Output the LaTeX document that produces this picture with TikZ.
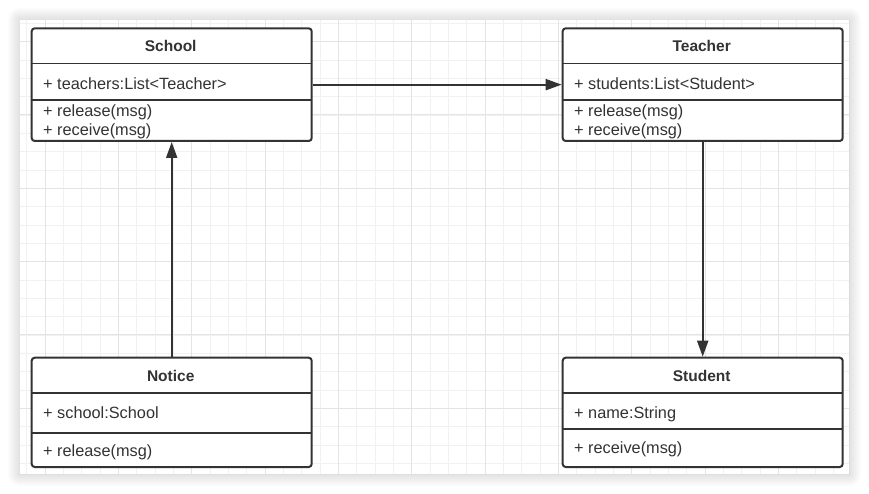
\documentclass[tikz,border=0pt]{standalone}
\usepackage{fontspec}
\setmainfont{Liberation Sans}
\usetikzlibrary{arrows.meta,shadows.blur}
\definecolor{ink}{HTML}{333333}
\definecolor{gridminor}{HTML}{F1F1F1}
\definecolor{gridmajor}{HTML}{E4E4E4}
\begin{document}
\begin{tikzpicture}[x=1pt,y=-1pt,
  classbox/.style={draw=ink, line width=2pt, rounded corners=3pt, fill=white,
    minimum width=280pt, inner sep=0pt, anchor=north west},
  sepline/.style={draw=ink, line width=1.8pt},
  title/.style={font=\fontsize{15.5}{18}\selectfont\bfseries, text=ink, inner sep=0pt},
  member/.style={font=\fontsize{16.3}{19}\selectfont, text=ink, inner sep=0pt,
    anchor=west, text height=11.6pt, text depth=0pt},
  link/.style={draw=ink, line width=2pt, -{Triangle[length=16pt,width=11pt]}}]
\useasboundingbox (0,0) rectangle (869,494);
% canvas with shadow
\path[fill=white, blur shadow={shadow xshift=0pt, shadow yshift=0pt, shadow blur radius=13pt, shadow opacity=25, shadow blur steps=14}]
  (20,20) rectangle (849,474);
\begin{scope}
\clip (20,20) rectangle (849,474);
\foreach \i in {0,...,45} {
  \pgfmathsetmacro{\gx}{26.667+18.333*\i}
  \draw[gridminor, line width=0.9pt] (\gx,20) -- (\gx,474);
}
\foreach \i in {0,...,25} {
  \pgfmathsetmacro{\gy}{23.333+18.333*\i}
  \draw[gridminor, line width=0.9pt] (20,\gy) -- (849,\gy);
}
\foreach \i in {0,...,11} {
  \pgfmathsetmacro{\gx}{-28.333+73.333*\i}
  \draw[gridmajor, line width=1pt] (\gx,20) -- (\gx,474);
}
\foreach \i in {0,...,6} {
  \pgfmathsetmacro{\gy}{-31.667+73.333*\i}
  \draw[gridmajor, line width=1pt] (20,\gy) -- (849,\gy);
}
\end{scope}

% School
\node[classbox, minimum height=112.7pt] (school) at (30.7,27.3) {};
\draw[sepline] (30.7,63.5) -- (310.7,63.5);
\draw[sepline] (30.7,100) -- (310.7,100);
\node[title] (schoolT) at (170.7,45.5) {School};
\node[member] (schoolA) at (43,83.5) {+ teachers:List<Teacher>};
\node[member] (schoolM1) at (43,110.5) {+ release(msg)};
\node[member] (schoolM2) at (43,129.5) {+ receive(msg)};

% Teacher
\node[classbox, minimum height=112.7pt] (teacher) at (561.7,27.3) {};
\draw[sepline] (561.7,63.5) -- (841.7,63.5);
\draw[sepline] (561.7,100) -- (841.7,100);
\node[title] (teacherT) at (701.7,45.5) {Teacher};
\node[member] (teacherA) at (574,83.5) {+ students:List<Student>};
\node[member] (teacherM1) at (574,110.5) {+ release(msg)};
\node[member] (teacherM2) at (574,129.5) {+ receive(msg)};

% Notice
\node[classbox, minimum height=109.3pt] (notice) at (30.7,356.7) {};
\draw[sepline] (30.7,393.3) -- (310.7,393.3);
\draw[sepline] (30.7,432.7) -- (310.7,432.7);
\node[title] (noticeT) at (170.7,375.5) {Notice};
\node[member] (noticeA) at (43,412.3) {+ school:School};
\node[member] (noticeM) at (43,450.5) {+ release(msg)};

% Student
\node[classbox, minimum height=109.3pt] (student) at (561.7,356.7) {};
\draw[sepline] (561.7,393.3) -- (841.7,393.3);
\draw[sepline] (561.7,429.3) -- (841.7,429.3);
\node[title] (studentT) at (701.7,375.5) {Student};
\node[member] (studentA) at (574,412.3) {+ name:String};
\node[member] (studentM) at (574,447.5) {+ receive(msg)};

% connectors
\draw[link] (school.east) -- (teacher.west);
\draw[link] (notice.north) -- (school.south);
\draw[link] (teacher.south) -- (student.north);
\end{tikzpicture}
\end{document}
